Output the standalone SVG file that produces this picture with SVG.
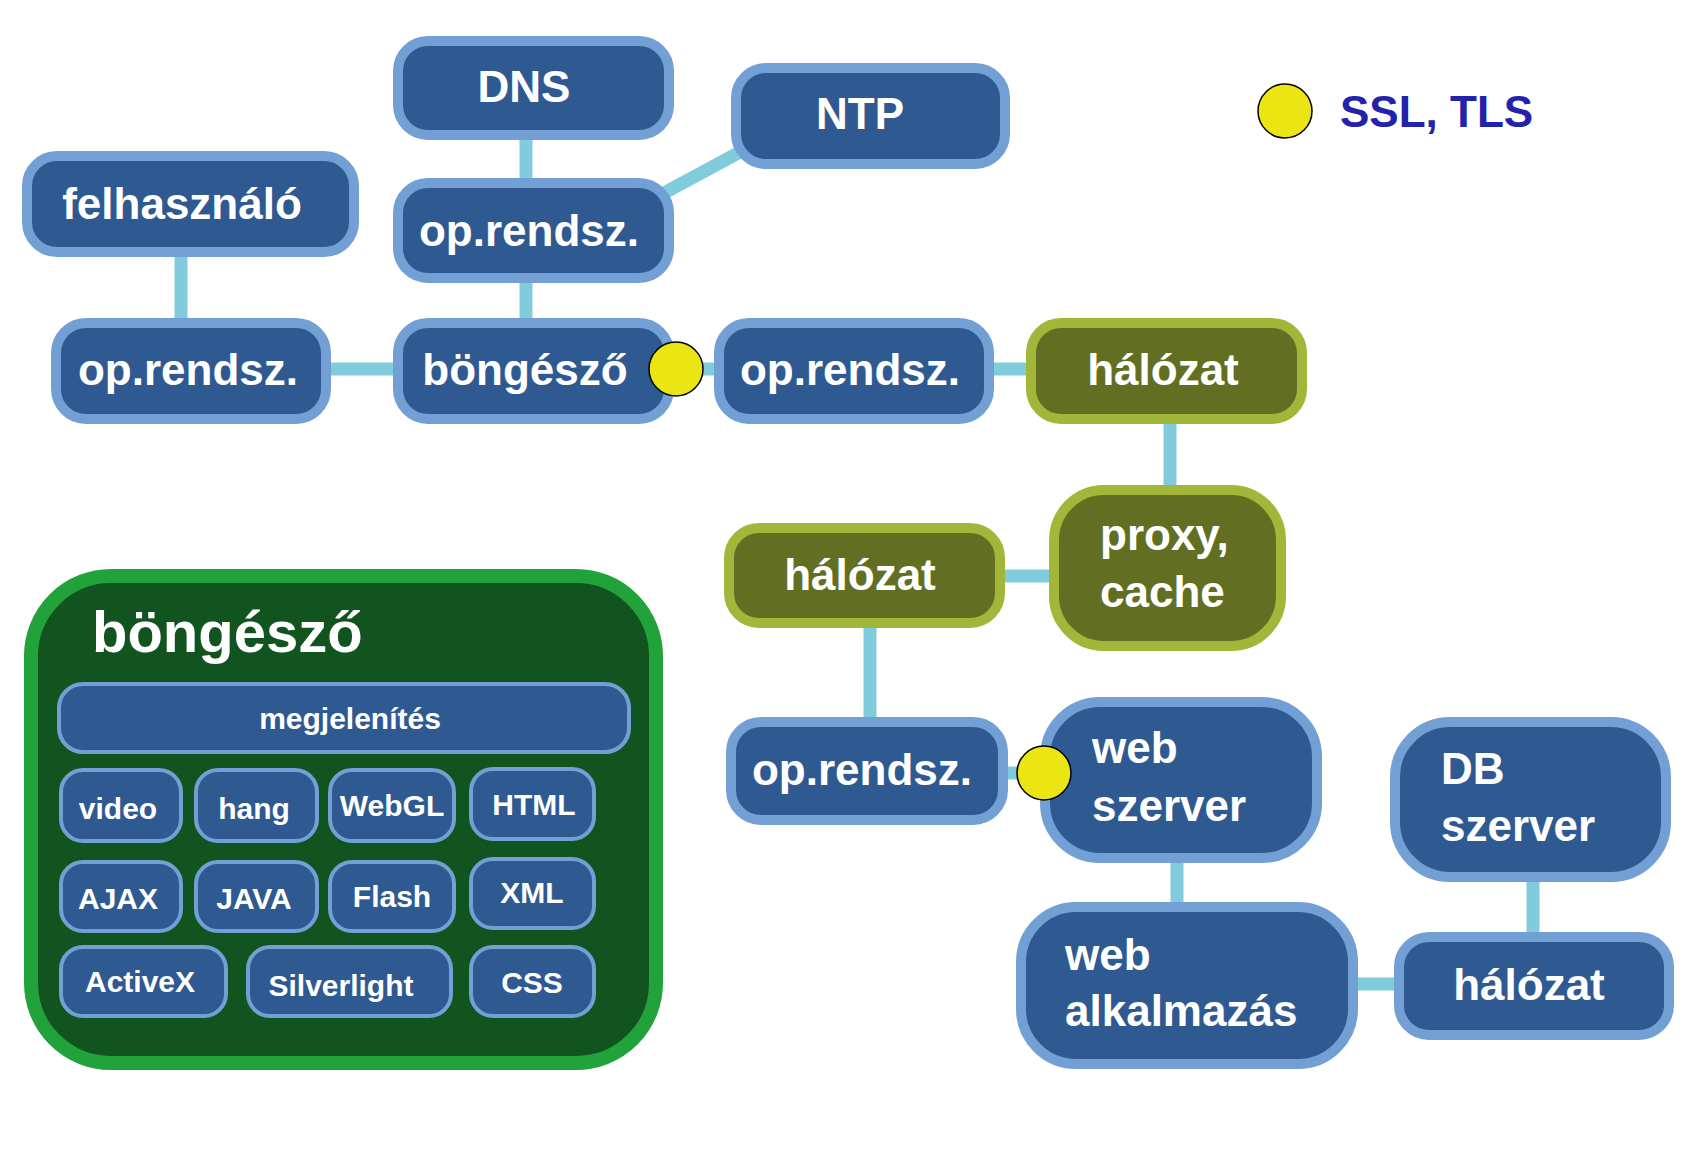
<svg xmlns="http://www.w3.org/2000/svg" width="1690" height="1152" viewBox="0 0 1690 1152">
<style>
.n{fill:#2f5a91;stroke:#729fd4;stroke-width:10}
.o{fill:#626f23;stroke:#a2b63a;stroke-width:10}
.s{fill:#2f5a91;stroke:#729fd4;stroke-width:4}
.t{font-family:"Liberation Sans",Arial,sans-serif;font-weight:bold;fill:#ffffff;font-size:44px}
.m{text-anchor:middle}
.st{font-family:"Liberation Sans",Arial,sans-serif;font-weight:bold;fill:#ffffff;font-size:30px;text-anchor:middle}
.c{stroke:#80cbdc;stroke-width:13;fill:none}
.y{fill:#ece514;stroke:#000;stroke-width:1.5}
</style>
<rect width="1690" height="1152" fill="#ffffff"/>
<g id="connectors">
<line class="c" x1="526" y1="138" x2="526" y2="180"/>
<line class="c" x1="526" y1="281" x2="526" y2="320"/>
<line class="c" x1="181" y1="255" x2="181" y2="320"/>
<line class="c" x1="329" y1="369" x2="395" y2="369"/>
<line class="c" x1="664" y1="193" x2="740" y2="152"/>
<line class="c" x1="672" y1="369" x2="716" y2="369"/>
<line class="c" x1="992" y1="369" x2="1028" y2="369"/>
<line class="c" x1="1170" y1="422" x2="1170" y2="487"/>
<line class="c" x1="1003" y1="576" x2="1051" y2="576"/>
<line class="c" x1="870" y1="626" x2="870" y2="719"/>
<line class="c" x1="1006" y1="773" x2="1042" y2="773"/>
<line class="c" x1="1177" y1="861" x2="1177" y2="904"/>
<line class="c" x1="1356" y1="984" x2="1396" y2="984"/>
<line class="c" x1="1533" y1="880" x2="1533" y2="934"/>
</g>
<g id="dns"><rect class="n" x="398" y="41" width="271" height="94" rx="30"/><text class="t m" x="524" y="102">DNS</text></g>
<g id="ntp"><rect class="n" x="736" y="68" width="269" height="96" rx="30"/><text class="t m" x="860" y="129">NTP</text></g>
<g id="felhasznalo"><rect class="n" x="27" y="156" width="327" height="96" rx="30"/><text class="t m" x="182" y="219">felhasználó</text></g>
<g id="oprendsz-top"><rect class="n" x="398" y="183" width="271" height="95" rx="30"/><text class="t m" x="529" y="246">op.rendsz.</text></g>
<g id="oprendsz-left"><rect class="n" x="56" y="323" width="270" height="96" rx="30"/><text class="t m" x="188" y="385">op.rendsz.</text></g>
<g id="bongeszo"><rect class="n" x="398" y="323" width="271" height="96" rx="30"/><text class="t m" x="525" y="385">böngésző</text></g>
<g id="oprendsz-mid"><rect class="n" x="719" y="323" width="270" height="96" rx="30"/><text class="t m" x="850" y="385">op.rendsz.</text></g>
<g id="halozat-top"><rect class="o" x="1031" y="323" width="271" height="96" rx="30"/><text class="t m" x="1163" y="385">hálózat</text></g>
<g id="proxy"><rect class="o" x="1054" y="490" width="227" height="156" rx="50"/><text class="t" x="1100" y="550">proxy,</text><text class="t" x="1100" y="607">cache</text></g>
<g id="halozat-mid"><rect class="o" x="729" y="528" width="271" height="95" rx="30"/><text class="t m" x="860" y="590">hálózat</text></g>
<g id="oprendsz-bottom"><rect class="n" x="731" y="722" width="272" height="98" rx="30"/><text class="t m" x="862" y="785">op.rendsz.</text></g>
<g id="webszerver"><rect class="n" x="1045" y="702" width="272" height="156" rx="55"/><text class="t" x="1092" y="763">web</text><text class="t" x="1092" y="821">szerver</text></g>
<g id="dbszerver"><rect class="n" x="1395" y="722" width="271" height="155" rx="55"/><text class="t" x="1441" y="784">DB</text><text class="t" x="1441" y="841">szerver</text></g>
<g id="webalkalmazas"><rect class="n" x="1021" y="907" width="332" height="157" rx="55"/><text class="t" x="1065" y="970">web</text><text class="t" x="1065" y="1026">alkalmazás</text></g>
<g id="halozat-bottom"><rect class="n" x="1399" y="937" width="270" height="98" rx="30"/><text class="t m" x="1529" y="1000">hálózat</text></g>
<g id="ssl-1"><circle class="y" cx="676" cy="369" r="27"/></g>
<g id="ssl-2"><circle class="y" cx="1044" cy="773" r="27"/></g>
<g id="legend"><circle class="y" cx="1285" cy="111" r="27"/><text x="1340" y="127" font-family="Liberation Sans, Arial, sans-serif" font-weight="bold" font-size="44" fill="#2222aa">SSL, TLS</text></g>
<g id="browser-box">
<rect x="31" y="576" width="625" height="487" rx="80" fill="#12541f" stroke="#22a23a" stroke-width="14"/>
<text x="92" y="652" font-family="Liberation Sans, Arial, sans-serif" font-weight="bold" font-size="58" fill="#ffffff">böngésző</text>
<g id="megjelenites"><rect class="s" x="59" y="684" width="570" height="68" rx="24"/><text class="st" x="350" y="729">megjelenítés</text></g>
<g id="video"><rect class="s" x="61" y="770" width="120" height="71" rx="22"/><text class="st" x="118" y="819">video</text></g>
<g id="hang"><rect class="s" x="196" y="770" width="121" height="71" rx="22"/><text class="st" x="254" y="819">hang</text></g>
<g id="webgl"><rect class="s" x="330" y="770" width="124" height="71" rx="22"/><text class="st" x="392" y="816">WebGL</text></g>
<g id="html"><rect class="s" x="471" y="769" width="123" height="70" rx="22"/><text class="st" x="534" y="815">HTML</text></g>
<g id="ajax"><rect class="s" x="61" y="862" width="120" height="69" rx="22"/><text class="st" x="118" y="909">AJAX</text></g>
<g id="java"><rect class="s" x="196" y="862" width="121" height="69" rx="22"/><text class="st" x="254" y="909">JAVA</text></g>
<g id="flash"><rect class="s" x="330" y="862" width="124" height="69" rx="22"/><text class="st" x="392" y="907">Flash</text></g>
<g id="xml"><rect class="s" x="471" y="859" width="123" height="69" rx="22"/><text class="st" x="532" y="903">XML</text></g>
<g id="activex"><rect class="s" x="61" y="947" width="165" height="69" rx="22"/><text class="st" x="140" y="992">ActiveX</text></g>
<g id="silverlight"><rect class="s" x="248" y="947" width="203" height="69" rx="22"/><text class="st" x="341" y="996">Silverlight</text></g>
<g id="css"><rect class="s" x="471" y="947" width="123" height="69" rx="22"/><text class="st" x="532" y="993">CSS</text></g>
</g>
</svg>
